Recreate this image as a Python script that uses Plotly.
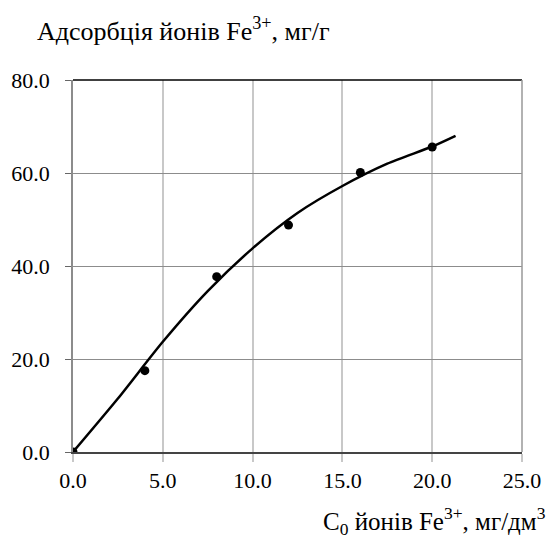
import plotly.graph_objects as go

# measured points
x_pts = [0, 4, 8, 12, 16, 20]
y_pts = [0, 17.5, 37.7, 48.8, 60.1, 65.6]

# smooth trend curve
x_curve = [0, 2.5, 5, 7.5, 10, 12.5, 15, 17.5, 20, 21.3]
y_curve = [0, 11.5, 23.7, 34.6, 43.8, 51.4, 57.2, 62.0, 65.7, 68.0]

x_ticks = [0, 5, 10, 15, 20, 25]
y_ticks = [0, 20, 40, 60, 80]

FONT = "Liberation Serif"

fig = go.Figure()
fig.add_trace(go.Scatter(x=x_curve, y=y_curve, mode="lines",
                         line=dict(color="black", width=2.5, shape="spline", smoothing=0.7),
                         hoverinfo="skip", showlegend=False))
fig.add_trace(go.Scatter(x=x_pts, y=y_pts, mode="markers",
                         marker=dict(color="black", size=9),
                         showlegend=False))

fig.update_layout(
    width=551, height=536,
    margin=dict(l=65, r=37, t=72, b=92),
    plot_bgcolor="white", paper_bgcolor="white",
    font=dict(family=FONT, size=22, color="black"),
    xaxis=dict(range=[0, 25], tickvals=x_ticks,
               ticktext=[f"{v:.1f}" for v in x_ticks],
               showgrid=True, gridcolor="#c8c8c8", gridwidth=1.5,
               showline=True, linecolor="#444", linewidth=1.5,
               ticks="outside", ticklen=8, tickcolor="#c8c8c8", tickwidth=1.5,
               zeroline=False, fixedrange=True, automargin=False,
               tickfont=dict(family=FONT, size=22)),
    yaxis=dict(range=[0, 80], tickvals=y_ticks,
               ticktext=[f"{v:.1f}" for v in y_ticks],
               showgrid=True, gridcolor="#8c8c8c", gridwidth=1.2,
               showline=True, linecolor="#8c8c8c", linewidth=1.5,
               ticks="outside", ticklen=6, tickcolor="#666", tickwidth=1.2,
               ticklabelstandoff=11,
               zeroline=False, fixedrange=True, automargin=False,
               tickfont=dict(family=FONT, size=22)),
    shapes=[
        dict(type="line", xref="paper", yref="paper", x0=0, x1=1, y0=1, y1=1,
             line=dict(color="black", width=1.5)),
        dict(type="line", xref="paper", yref="paper", x0=1, x1=1, y0=0, y1=1,
             line=dict(color="#999", width=1.5)),
    ],
    annotations=[
        dict(text="Адсорбція йонів Fe<sup>3+</sup>, мг/г", xref="paper", yref="paper",
             x=-0.0846, y=1.135, xanchor="left", yanchor="middle", showarrow=False,
             font=dict(family=FONT, size=26)),
        dict(text="C<sub>0</sub> йонів Fe<sup>3+</sup>, мг/дм<sup>3</sup>",
             xref="paper", yref="paper",
             x=1.058, y=-0.185, xanchor="right", yanchor="middle", showarrow=False,
             font=dict(family=FONT, size=25)),
    ],
)

fig.write_html("out.html")
